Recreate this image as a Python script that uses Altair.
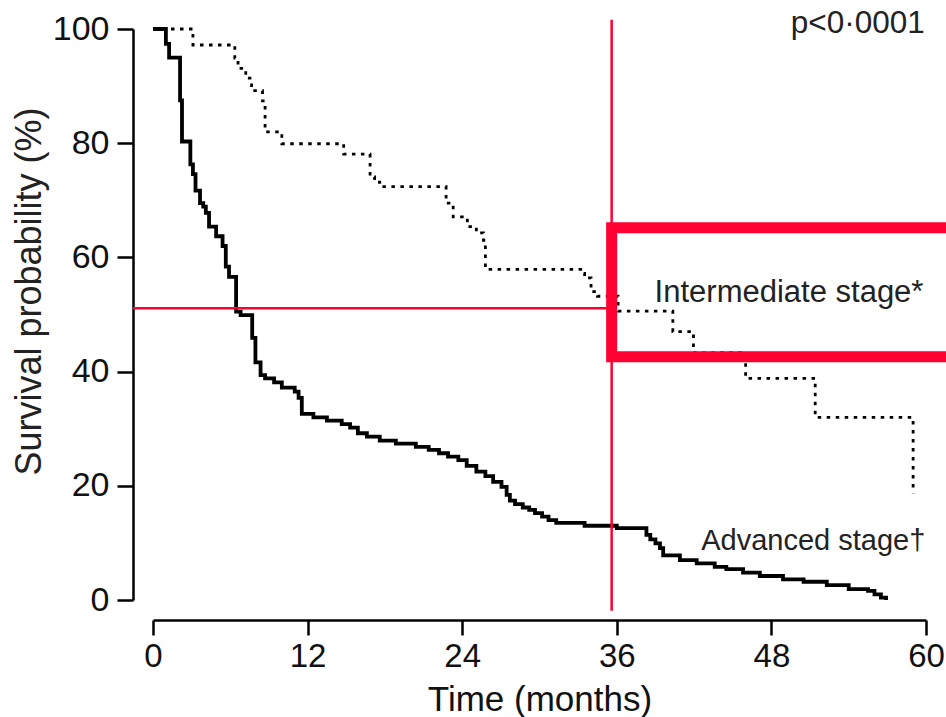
import altair as alt
import pandas as pd

# ---- data ----
adv_month = [0, 1.0, 1.25, 2.1, 2.25, 2.9, 3.1, 3.3, 3.65, 3.9, 4.1, 4.35, 4.9, 5.4, 5.65, 5.9,
             6.45, 6.8, 7.7, 7.95, 8.35, 8.7, 9.4, 10.0, 11.0, 11.3, 11.55, 12.45, 13.5, 14.65,
             15.3, 15.9, 16.6, 17.6, 18.85, 20.4, 21.4, 22.2, 22.9, 23.7, 24.35, 25.1, 25.8,
             26.4, 27.05, 27.45, 27.7, 28.1, 28.7, 29.2, 29.65, 30.2, 30.7, 31.3, 33.5, 36.0,
             38.3, 38.6, 39.0, 39.35, 39.6, 40.9, 42.2, 43.6, 44.5, 45.8, 47.1, 48.9, 50.5,
             52.3, 54.0, 55.5, 56.0, 56.5, 56.9]
adv_pct = [100, 97.4, 95.0, 87.5, 80.3, 76.3, 74.6, 71.7, 69.5, 68.9, 67.8, 65.4, 63.7, 62.0,
           58.4, 56.6, 50.5, 49.9, 45.9, 41.6, 39.4, 38.8, 38.1, 37.2, 36.5, 35.4, 32.6, 32.0,
           31.4, 30.8, 30.2, 29.2, 28.6, 27.9, 27.4, 26.8, 26.3, 25.7, 25.1, 24.5, 23.5, 22.5,
           21.7, 20.7, 19.8, 18.4, 17.4, 16.8, 16.2, 15.8, 15.2, 14.6, 14.0, 13.5, 13.0, 12.6,
           11.4, 10.6, 9.9, 9.1, 7.8, 7.0, 6.4, 5.8, 5.4, 4.8, 4.2, 3.6, 3.2, 2.6, 1.9, 1.6,
           1.0, 0.4, 0.0]

int_month = [0, 3.1, 6.35, 6.6, 7.2, 7.65, 8.5, 8.7, 10.0, 14.8, 16.85, 17.2, 17.6, 22.75,
             23.3, 24.4, 25.1, 25.65, 25.8, 33.2, 33.5, 34.0, 34.5, 36.1, 40.35, 41.95, 46.0,
             51.4, 59.0]
int_pct = [100, 97.2, 94.9, 93.1, 91.4, 89.2, 87.4, 82.0, 79.9, 78.1, 74.1, 73.2, 72.4, 69.5,
           67.1, 65.4, 64.3, 63.0, 57.9, 57.2, 56.4, 54.0, 53.2, 50.6, 47.0, 43.3,
           38.8, 32.0, 18.7]

x_ticks = [0, 12, 24, 36, 48, 60]
y_ticks = [0, 20, 40, 60, 80, 100]

# annotation values (data units)
median_month = 35.6
median_pct = 51.1
box_x = [35.6, 62.0]
box_y = [42.6, 65.2]

labels = ["p<0·0001", "Intermediate stage*", "Advanced stage†"]
label_x = [59.9, 59.8, 59.95]
label_y = [99.3, 52.2, 8.8]
label_size = [31.5, 31, 29]

RED = "#FF0033"
FONT = "Liberation Sans"

adv = pd.DataFrame({"month": adv_month, "pct": adv_pct})
inter = pd.DataFrame({"month": int_month, "pct": int_pct})

xs = alt.Scale(domain=[0, 60], nice=False, zero=False)
ys = alt.Scale(domain=[0, 100], nice=False, zero=False)

x_axis = alt.Axis(values=x_ticks, offset=20, tickSize=15, tickWidth=2.5, domainWidth=2.5,
                  domainColor="black", tickColor="black", labelFontSize=33, labelPadding=5,
                  labelColor="#111", labelFont=FONT, title="Time (months)", titleFont=FONT,
                  titleFontSize=35, titleFontWeight="normal", titleColor="#111",
                  titlePadding=9, grid=False, labelFlush=False)
y_axis = alt.Axis(values=y_ticks, offset=20, tickSize=16, tickWidth=2.5, domainWidth=2.5,
                  domainColor="black", tickColor="black", labelFontSize=34, labelPadding=8,
                  labelColor="#111", labelFont=FONT, title="Survival probability (%)",
                  titleFont=FONT, titleFontSize=36, titleFontWeight="normal",
                  titleColor="#222", titlePadding=4, titleY=262, grid=False, labelFlush=False)

adv_line = alt.Chart(adv).mark_line(interpolate="step-after", color="black", strokeWidth=3.8).encode(
    x=alt.X("month:Q", scale=xs, axis=x_axis),
    y=alt.Y("pct:Q", scale=ys, axis=y_axis),
)
int_line = alt.Chart(inter).mark_line(interpolate="step-after", color="black", strokeWidth=2.8,
                                      strokeDash=[3.5, 5.5]).encode(
    x=alt.X("month:Q", scale=xs),
    y=alt.Y("pct:Q", scale=ys),
)

vline = alt.Chart(pd.DataFrame({"x": [median_month], "y": [-1.9], "y2": [101.6]})).mark_rule(
    color=RED, strokeWidth=2.5).encode(x=alt.X("x:Q", scale=xs), y=alt.Y("y:Q", scale=ys), y2="y2:Q")
hline = alt.Chart(pd.DataFrame({"x": [-1.55], "x2": [median_month], "y": [median_pct]})).mark_rule(
    color=RED, strokeWidth=2.5).encode(x=alt.X("x:Q", scale=xs), x2="x2:Q", y=alt.Y("y:Q", scale=ys))

box = alt.Chart(pd.DataFrame({"x": [box_x[0]], "x2": [box_x[1]], "y": [box_y[0]], "y2": [box_y[1]]})).mark_rect(
    fillOpacity=0, stroke=RED, strokeWidth=11).encode(
    x=alt.X("x:Q", scale=xs), x2="x2:Q", y=alt.Y("y:Q", scale=ys), y2="y2:Q")

texts = alt.Chart(pd.DataFrame({"x": label_x, "y": label_y, "t": labels, "s": label_size})).mark_text(
    align="right", baseline="alphabetic", font=FONT, color="#222").encode(
    x=alt.X("x:Q", scale=xs), y=alt.Y("y:Q", scale=ys), text="t:N",
    size=alt.Size("s:Q", scale=None, legend=None))

chart = alt.layer(int_line, adv_line, hline, vline, box, texts).properties(
    width=773, height=571,
    padding={"left": 153, "top": 29, "right": 20, "bottom": 117},
    autosize=alt.AutoSizeParams(type="none"),
    background="white",
).configure_view(stroke=None)

chart.save("out.html", embed_options={"renderer": "svg", "actions": False})
